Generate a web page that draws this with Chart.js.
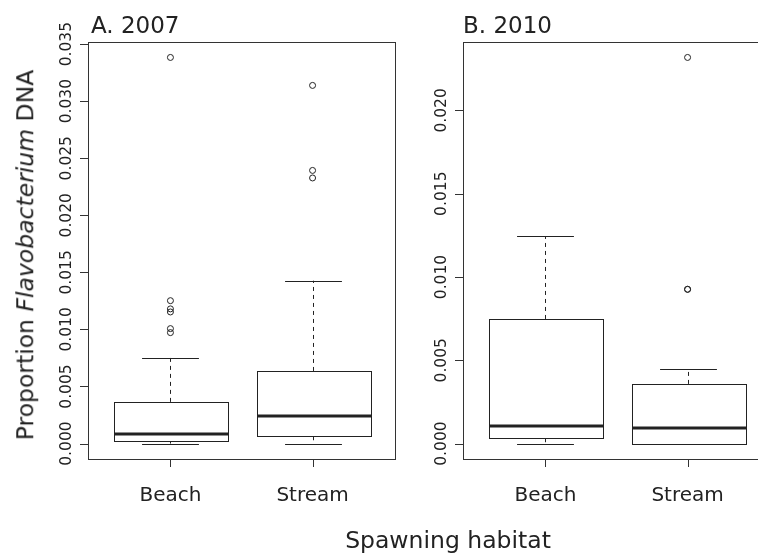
<!DOCTYPE html>
<html>
<head>
<meta charset="utf-8">
<script src="https://cdn.jsdelivr.net/npm/chart.js@4/dist/chart.umd.min.js"></script>
<style>
  html, body { margin: 0; padding: 0; background: #fff; }
  body { width: 758px; height: 556px; overflow: hidden; position: relative; font-family: "DejaVu Sans", sans-serif; color: #222; }
  canvas { position: absolute; top: 0; }
  #c2007 { left: 0; }
  #c2010 { left: 375px; }
  .lab { position: absolute; white-space: nowrap; line-height: 1; font-size: 23.5px; }
  #ylab { left: 26px; top: 255px; transform: translate(-50%, -50%) rotate(-90deg); }
  #xlab { left: 448px; top: 541px; transform: translate(-50%, -50%); }
</style>
</head>
<body>
<canvas id="c2007" width="400" height="556"></canvas>
<canvas id="c2010" width="400" height="556"></canvas>
<div class="lab" id="ylab">Proportion <i>Flavobacterium</i> DNA</div>
<div class="lab" id="xlab">Spawning habitat</div>
<script>
var categories = ['Beach', 'Stream'];

// A. 2007
var lowA = [0, 0];
var q1A = [0.00026, 0.00064];
var medA = [0.00088, 0.00239];
var q3A = [0.00365, 0.00636];
var highA = [0.0075, 0.01427];
var outBeachA = [0.00972, 0.01007, 0.01153, 0.0118, 0.01252, 0.03383];
var outStreamA = [0.02327, 0.02393, 0.03138];
var ticksA = [0, 0.005, 0.01, 0.015, 0.02, 0.025, 0.03, 0.035];

// B. 2010
var lowB = [0, 0];
var q1B = [0.00032, 0];
var medB = [0.00104, 0.00094];
var q3B = [0.00748, 0.00358];
var highB = [0.01246, 0.0045];
var outBeachB = [];
var outStreamB = [0.00926, 0.00926, 0.02318];
var ticksB = [0, 0.005, 0.01, 0.015, 0.02];

var ink = '#222';

// R style boxplot drawn through the chart's scales
var rBoxPlugin = {
  id: 'rbox',
  beforeDatasetsDraw: function(chart) {
    var o = chart.options.plugins.rbox;
    var ctx = chart.ctx, xs = chart.scales.x, ys = chart.scales.y;
    ctx.save();
    ctx.strokeStyle = ink;
    for (var i = 0; i < categories.length; i++) {
      var xc = Math.round(xs.getPixelForValue(i + 1)) + 0.5;
      var half = xs.getPixelForValue(i + 1.4) - xs.getPixelForValue(i + 1);
      var cap = half / 2;
      var yLo = ys.getPixelForValue(o.low[i]), yQ1 = ys.getPixelForValue(o.q1[i]);
      var yMed = ys.getPixelForValue(o.med[i]), yQ3 = ys.getPixelForValue(o.q3[i]);
      var yHi = ys.getPixelForValue(o.high[i]);
      // whiskers
      ctx.lineWidth = 1;
      ctx.setLineDash([4, 4]);
      ctx.beginPath();
      ctx.moveTo(xc, yQ3); ctx.lineTo(xc, yHi);
      ctx.moveTo(xc, yQ1); ctx.lineTo(xc, yLo);
      ctx.stroke();
      ctx.setLineDash([]);
      ctx.beginPath();
      ctx.moveTo(xc - cap, Math.round(yHi) + 0.5); ctx.lineTo(xc + cap, Math.round(yHi) + 0.5);
      ctx.moveTo(xc - cap, Math.round(yLo) + 0.5); ctx.lineTo(xc + cap, Math.round(yLo) + 0.5);
      ctx.stroke();
      // box
      var bx = Math.round(xc - half) + 0.5, bw = Math.round(2 * half);
      ctx.fillStyle = '#fff';
      ctx.fillRect(bx, Math.round(yQ3) + 0.5, bw, Math.round(yQ1) - Math.round(yQ3));
      ctx.strokeRect(bx, Math.round(yQ3) + 0.5, bw, Math.round(yQ1) - Math.round(yQ3));
      // median
      ctx.lineWidth = 3;
      ctx.beginPath();
      ctx.moveTo(bx, Math.round(yMed)); ctx.lineTo(bx + bw, Math.round(yMed));
      ctx.stroke();
    }
    ctx.restore();
  },
  afterDraw: function(chart) {
    var o = chart.options.plugins.rbox;
    var ctx = chart.ctx, xs = chart.scales.x, ys = chart.scales.y, a = chart.chartArea;
    ctx.save();
    ctx.strokeStyle = '#333';
    ctx.lineWidth = 1;
    ctx.strokeRect(Math.round(a.left) + 0.5, Math.round(a.top) + 0.5, Math.round(a.right - a.left), Math.round(a.bottom - a.top));
    // y axis
    ctx.fillStyle = ink;
    ctx.font = '15.5px "DejaVu Sans"';
    ctx.textAlign = 'center';
    ctx.textBaseline = 'alphabetic';
    ctx.beginPath();
    o.ticks.forEach(function(t) {
      var y = Math.round(ys.getPixelForValue(t)) + 0.5;
      ctx.moveTo(a.left - 8, y); ctx.lineTo(a.left, y);
    });
    ctx.stroke();
    o.ticks.forEach(function(t) {
      var y = ys.getPixelForValue(t);
      ctx.save();
      ctx.translate(a.left - 17, y);
      ctx.rotate(-Math.PI / 2);
      ctx.fillText(t.toFixed(3), 0, 0);
      ctx.restore();
    });
    // x axis
    ctx.beginPath();
    categories.forEach(function(c, i) {
      var x = Math.round(xs.getPixelForValue(i + 1)) + 0.5;
      ctx.moveTo(x, a.bottom); ctx.lineTo(x, a.bottom + 8);
    });
    ctx.stroke();
    ctx.font = '20px "DejaVu Sans"';
    categories.forEach(function(c, i) {
      ctx.fillText(c, xs.getPixelForValue(i + 1), a.bottom + 42);
    });
    // panel title
    ctx.textAlign = 'left';
    ctx.font = '23px "DejaVu Sans"';
    ctx.fillText(o.title, a.left + o.titleShift, 33);
    ctx.restore();
  }
};

function outlierPoints(beach, stream) {
  var pts = [];
  beach.forEach(function(v) { pts.push({ x: 1, y: v }); });
  stream.forEach(function(v) { pts.push({ x: 2, y: v }); });
  return pts;
}

function makePanel(id, title, shift, low, q1, med, q3, high, outs, ticks) {
  var maxV = Math.max.apply(null, high.concat(outs.map(function(p) { return p.y; })));
  var minV = Math.min.apply(null, low);
  var pad = (maxV - minV) * 0.04;
  return new Chart(document.getElementById(id), {
    type: 'scatter',
    data: {
      datasets: [{
        data: outs,
        pointStyle: 'circle',
        pointRadius: 3,
        pointBorderWidth: 1,
        pointBorderColor: ink,
        pointBackgroundColor: 'rgba(0,0,0,0)'
      }]
    },
    options: {
      responsive: false,
      animation: false,
      layout: { padding: { left: 88, right: 5, top: 42, bottom: 97 } },
      scales: {
        x: { type: 'linear', min: 0.42, max: 2.58, display: false },
        y: { type: 'linear', min: minV - pad, max: maxV + pad, display: false }
      },
      plugins: {
        legend: { display: false },
        tooltip: { enabled: false },
        rbox: { low: low, q1: q1, med: med, q3: q3, high: high, ticks: ticks, title: title, titleShift: shift }
      }
    },
    plugins: [rBoxPlugin]
  });
}

makePanel('c2007', 'A. 2007', 3, lowA, q1A, medA, q3A, highA, outlierPoints(outBeachA, outStreamA), ticksA);
makePanel('c2010', 'B. 2010', 0, lowB, q1B, medB, q3B, highB, outlierPoints(outBeachB, outStreamB), ticksB);
</script>
</body>
</html>
